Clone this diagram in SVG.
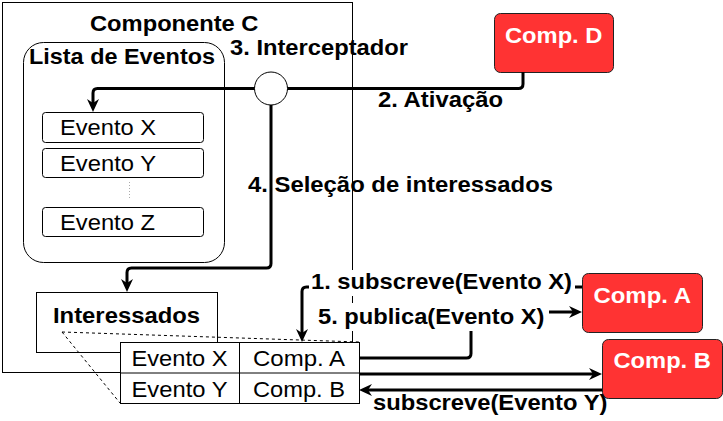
<svg xmlns="http://www.w3.org/2000/svg" width="723" height="421" viewBox="0 0 723 421">
<style>
text{font-family:"Liberation Sans",Arial,Helvetica,sans-serif;font-size:22px;fill:#000}
.b{font-weight:bold}
.w{font-weight:bold;fill:#fff}
.box{fill:#fff;stroke:#000;stroke-width:1}
.red{fill:#ff3333;stroke:#222;stroke-width:1}
.conn{fill:none;stroke:#000;stroke-width:3}
.dash{fill:none;stroke:#000;stroke-width:1;stroke-dasharray:3 3}
.lbg{fill:#fff;stroke:none}
</style>
<defs>
<marker id="arr" markerUnits="userSpaceOnUse" markerWidth="20" markerHeight="16" viewBox="0 0 20 16" refX="4" refY="8" orient="auto">
<path d="M0,2 L13,8 L0,14 L4,8 Z" fill="#000"/>
</marker>
</defs>
<rect width="723" height="421" fill="#fff"/>
<g id="componente-c">
<rect class="box" x="2.5" y="2.5" width="350" height="370"/>
<text class="b" x="90" y="31" textLength="168.5" lengthAdjust="spacingAndGlyphs">Componente C</text>
</g>
<g id="lista-eventos">
<rect class="box" x="23.5" y="42.5" width="201" height="220" rx="20"/>
<text class="b" x="29" y="64" textLength="186" lengthAdjust="spacingAndGlyphs">Lista de Eventos</text>
</g>
<g id="evento-x">
<rect class="box" x="42.5" y="112.5" width="161" height="30" rx="3"/>
<text x="60" y="135" textLength="96" lengthAdjust="spacingAndGlyphs">Evento X</text>
</g>
<g id="evento-y">
<rect class="box" x="42.5" y="148.5" width="161" height="29" rx="3"/>
<text x="60" y="170.5" textLength="96" lengthAdjust="spacingAndGlyphs">Evento Y</text>
</g>
<g id="reticencias">
<line x1="129.5" y1="182" x2="129.5" y2="200" stroke="#aaa" stroke-width="1" stroke-dasharray="1 2"/>
</g>
<g id="evento-z">
<rect class="box" x="42.5" y="207.5" width="161" height="29" rx="3"/>
<text x="60" y="229.5" textLength="95" lengthAdjust="spacingAndGlyphs">Evento Z</text>
</g>
<g id="interceptador">
<circle cx="271" cy="88.5" r="16.5" fill="#fff" stroke="#000" stroke-width="1"/>
<text class="b" x="230" y="55" textLength="178" lengthAdjust="spacingAndGlyphs">3. Interceptador</text>
</g>
<g id="interessados">
<rect class="box" x="36.5" y="292.5" width="181" height="60"/>
<text class="b" x="53" y="323" textLength="147" lengthAdjust="spacingAndGlyphs">Interessados</text>
</g>
<g id="zoom-lines">
<path class="dash" d="M62,332 L359,342 M62,332 L120,403"/>
</g>
<g id="tabela">
<rect class="box" x="120.5" y="342.5" width="239" height="61"/>
<line x1="120.5" y1="373" x2="359.5" y2="373" stroke="#000" stroke-width="1"/>
<line x1="239.5" y1="342.5" x2="239.5" y2="403.5" stroke="#000" stroke-width="1"/>
<text x="131.5" y="366" textLength="96" lengthAdjust="spacingAndGlyphs">Evento X</text>
<text x="253" y="366" textLength="92" lengthAdjust="spacingAndGlyphs">Comp. A</text>
<text x="131.5" y="396.5" textLength="96" lengthAdjust="spacingAndGlyphs">Evento Y</text>
<text x="253" y="396.5" textLength="92" lengthAdjust="spacingAndGlyphs">Comp. B</text>
</g>
<g id="comp-d">
<rect class="red" x="494.5" y="13.5" width="119" height="59" rx="6"/>
<text class="w" x="505" y="43" textLength="97.4" lengthAdjust="spacingAndGlyphs">Comp. D</text>
</g>
<g id="comp-a">
<rect class="red" x="582.5" y="273.5" width="120" height="59" rx="6"/>
<text class="w" x="593.5" y="303" textLength="97.4" lengthAdjust="spacingAndGlyphs">Comp. A</text>
</g>
<g id="comp-b">
<rect class="red" x="602.5" y="339.5" width="120" height="59" rx="6"/>
<text class="w" x="613.5" y="368" textLength="97.4" lengthAdjust="spacingAndGlyphs">Comp. B</text>
</g>
<g id="connectors">
<path class="conn" d="M523,72 V84 Q523,88.5 518.5,88.5 H287.5"/>
<path class="conn" d="M254.5,88.5 H97.5 Q93,88.5 93,93 V103" marker-end="url(#arr)"/>
<path class="conn" d="M271,105 V263.5 Q271,268 266.5,268 H131.5 Q127,268 127,272.5 V283" marker-end="url(#arr)"/>
<path class="conn" d="M582,287 H306.5 Q302,287 302,291.5 V333" marker-end="url(#arr)"/>
<path class="conn" d="M359,358 H466.5 Q471,358 471,353.5 V316.5 Q471,312 475.5,312 H573" marker-end="url(#arr)"/>
<path class="conn" d="M359,374 H593" marker-end="url(#arr)"/>
<path class="conn" d="M602,390 H368" marker-end="url(#arr)"/>
<rect class="lbg" x="309" y="270" width="266" height="26"/>
<rect class="lbg" x="316" y="303" width="233" height="28"/>
<text class="b" x="378" y="107" textLength="125" lengthAdjust="spacingAndGlyphs">2. Ativação</text>
<text class="b" x="248" y="192" textLength="305" lengthAdjust="spacingAndGlyphs">4. Seleção de interessados</text>
<text class="b" x="311" y="289" textLength="261" lengthAdjust="spacingAndGlyphs">1. subscreve(Evento X)</text>
<text class="b" x="318" y="324" textLength="226.5" lengthAdjust="spacingAndGlyphs">5. publica(Evento X)</text>
<text class="b" x="373" y="410" textLength="234.4" lengthAdjust="spacingAndGlyphs">subscreve(Evento Y)</text>
</g>
</svg>
